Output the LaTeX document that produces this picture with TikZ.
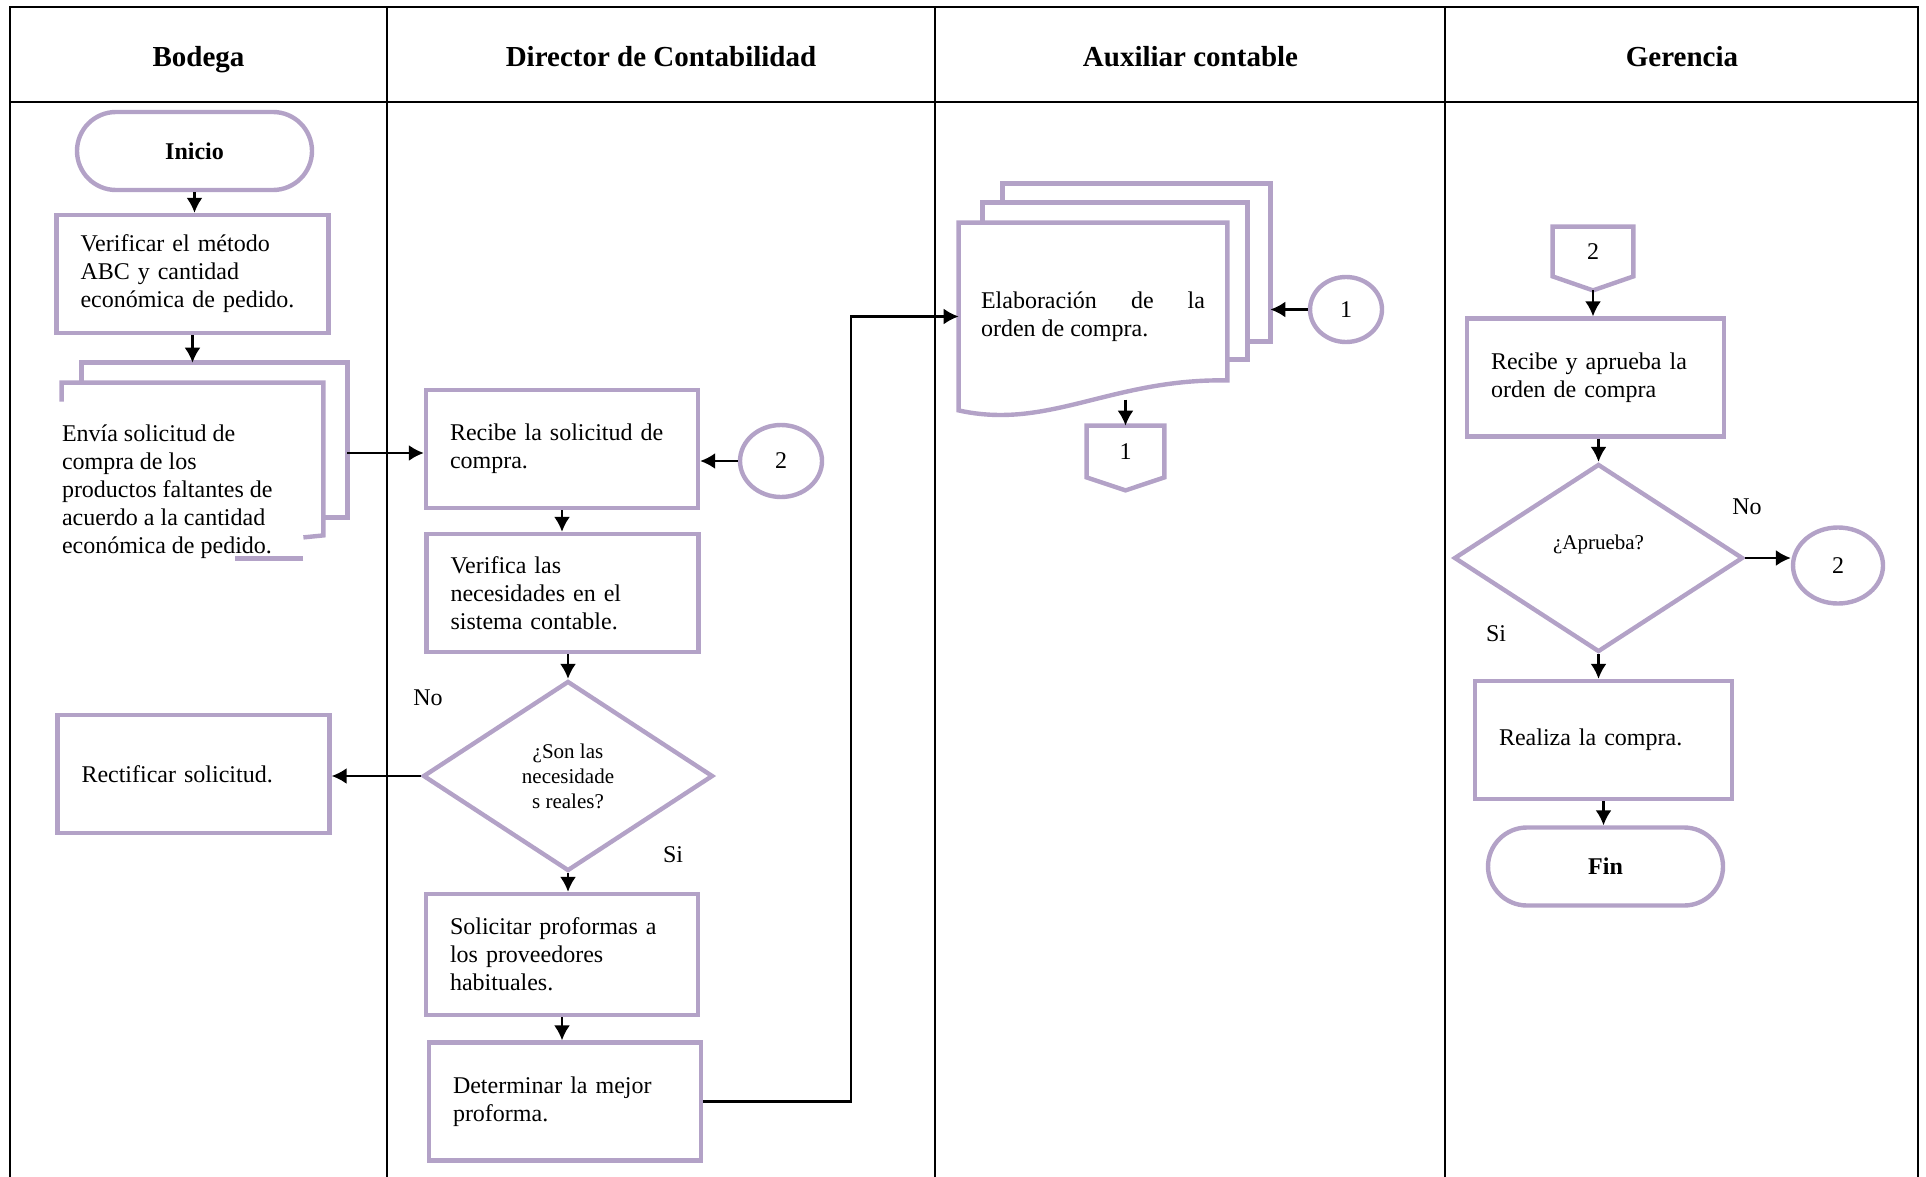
\documentclass[tikz,border=0pt]{standalone}
\usepackage{fontspec}
\setmainfont{Liberation Serif}
\usetikzlibrary{shapes.geometric}
\usetikzlibrary{shapes.misc}
\usetikzlibrary{arrows.meta}
\definecolor{lila}{RGB}{179,162,199}

\begin{document}
\begin{tikzpicture}[
    x=0.5pt, y=-0.5pt,
    >={Latex[length=7.5pt,width=8pt]},
    every node/.style={font=\fontsize{12}{14}\selectfont, inner sep=0pt},
    proceso/.style={draw=lila, line width=2.2pt, minimum width=136pt, minimum height=59pt, text width=112pt, align=left},
    terminal/.style={rounded rectangle, draw=lila, line width=2.2pt, minimum width=117.5pt, minimum height=39pt, font=\fontsize{12}{14}\selectfont\bfseries},
    decision/.style={diamond, draw=lila, line width=2.2pt, align=center, font=\fontsize{10.5}{12.5}\selectfont},
    conector/.style={ellipse, draw=lila, line width=2.2pt},
    hoja/.style={draw=lila, line width=2.2pt},
    cabecera/.style={font=\fontsize{14.5}{17}\selectfont\bfseries, anchor=base},
    tabla/.style={line width=1.3pt},
    flecha/.style={->, line width=1.1pt}
  ]
    % Tabla de carriles
    \useasboundingbox (0,0) rectangle (1926,1177);
    \draw[tabla] (10,1177) -- (10,7) -- (1918,7) -- (1918,1177);
    \draw[tabla] (10,102) -- (1918,102);
    \draw[tabla] (387,7) -- (387,1177);
    \draw[tabla] (935,7) -- (935,1177);
    \draw[tabla] (1445,7) -- (1445,1177);

    \node[cabecera] (bodega) at (198.5,67) {Bodega};
    \node[cabecera] (director) at (661,67) {Director de Contabilidad};
    \node[cabecera] (auxiliar) at (1190.5,67) {Auxiliar contable};
    \node[cabecera] (gerencia) at (1682,67) {Gerencia};

    % Bodega
    \node[terminal] (inicio) at (194.5,151) {Inicio};
    \node[proceso] (verificar) at (192.5,274) {Verificar el método\\ABC y cantidad\\económica de pedido.};
    \node[minimum width=132.5pt, minimum height=77pt] (envia) at (214.5,440) {};
    \draw[hoja] ([yshift=-10pt]envia.north west) -- (envia.north west) -- (envia.north east) -- (envia.south east) -- ++(-12pt,0);
    \draw[hoja] ([shift={(-10pt,-19.5pt)}]envia.north west) -- ++(0,9.5pt) -| ([shift={(-12pt,-9pt)}]envia.south east) -- ++(-10pt,-1pt);
    \draw[hoja] ([shift={(-22pt,-20.5pt)}]envia.south east) -- ++(-34pt,0);
    \node[anchor=north west, align=left] (enviatxt) at ([shift={(-10pt,-31pt)}]envia.north west) {Envía solicitud de\\compra de los\\productos faltantes de\\acuerdo a la cantidad\\económica de pedido.};
    \node[proceso] (rectificar) at (193.5,774) {Rectificar solicitud.};

    % Director de Contabilidad
    \node[proceso] (recibe) at (562,449) {Recibe la solicitud de\\compra.};
    \node[conector, minimum width=41pt, minimum height=36pt] (con2) at (781,461) {2};
    \node[proceso] (verifica) at (562.5,593) {Verifica las\\necesidades en el\\sistema contable.};
    \node[decision, minimum width=145pt, minimum height=95pt] (necesidades) at (568,776) {¿Son las\\necesidade\\s reales?};
    \node (no1) at (428,698) {No};
    \node (si1) at (673,855) {Si};
    \node[proceso, minimum height=60.5pt] (proformas) at (562,954.5) {Solicitar proformas a\\los proveedores\\habituales.};
    \node[proceso] (mejor) at (565,1101.5) {Determinar la mejor\\proforma.};

    % Auxiliar contable
    \node[minimum width=134pt, minimum height=93.5pt, text width=112pt, align=justify] (elab) at (1093,316.5) {Elaboración de la\linebreak orden de compra.};
    \draw[hoja] ([shift={(22pt,10pt)}]elab.north west) |- ([shift={(21.5pt,19.5pt)}]elab.north east) -- ++(0,-79pt) -- ++(-11.5pt,0);
    \draw[hoja] ([shift={(12pt,0pt)}]elab.north west) |- ([shift={(10pt,10pt)}]elab.north east) -- ++(0,-78.5pt) -- ++(-10pt,0);
    \draw[hoja] (elab.north west) -- (elab.north east) -- ([yshift=15pt]elab.south east) .. controls +(-58pt,1pt) and +(45pt,-10pt) .. (elab.south west) -- cycle;
    \coordinate (hojaatras) at ([xshift=21.5pt]elab.east);
    \node[conector, minimum width=36pt, minimum height=32.5pt] (con1) at (1346,309.5) {1};
    \node[minimum width=38.5pt, minimum height=25.5pt] (ref1) at (1125.5,451.5) {1};
    \draw[hoja] (ref1.south west) -- (ref1.north west) -- (ref1.north east) -- (ref1.south east) -- ([yshift=-6.5pt]ref1.south) -- cycle;

    % Gerencia
    \node[minimum width=40pt, minimum height=24.5pt] (ref2) at (1593,251.5) {2};
    \draw[hoja] (ref2.south west) -- (ref2.north west) -- (ref2.north east) -- (ref2.south east) -- ([yshift=-7pt]ref2.south) -- cycle;
    \node[proceso, minimum width=128.5pt, text width=104.5pt] (aprueba) at (1595.5,377.5) {Recibe y aprueba la\\orden de compra};
    \node[decision, minimum width=144.5pt, minimum height=94pt] (apruebaq) at (1598.5,558) {\raisebox{16pt}{¿Aprueba?}};
    \node[conector, minimum width=45pt, minimum height=38pt] (con2g) at (1838,565.5) {2};
    \node (no2) at (1747,507) {No};
    \node (si2) at (1496,634) {Si};
    \node[proceso, minimum width=128.5pt, text width=104.5pt] (compra) at (1603.5,740) {Realiza la compra.};
    \node[terminal] (fin) at (1605.5,866.5) {Fin};

    \draw[flecha] (inicio.south) -- (inicio.south |- verificar.north);
    \draw[flecha] (verificar.south) -- (verificar.south |- envia.north);
    \draw[flecha] ([yshift=-2pt]envia.east |- recibe.west) -- ([yshift=-2pt]recibe.west);
    \draw[flecha] (con2.west) -- (con2.west -| recibe.east);
    \draw[flecha] (recibe.south) -- (recibe.south |- verifica.north);
    \draw[flecha] (verifica.south -| necesidades.north) -- (necesidades.north);
    \draw[flecha] (necesidades.west) -- (necesidades.west -| rectificar.east);
    \draw[flecha] (necesidades.south) -- (necesidades.south |- proformas.north);
    \draw[flecha] (proformas.south) -- (proformas.south |- mejor.north);
    \draw[flecha] (mejor.east) -| ([xshift=-54pt]elab.west) -- (elab.west);
    \draw[flecha] (con1.west) -- (con1.west -| hojaatras);
    \draw[flecha] ([yshift=13pt]ref1.north) -- (ref1.north);
    \draw[flecha] ([yshift=-7pt]ref2.south) -- (ref2.south |- aprueba.north);
    \draw[flecha] (aprueba.south -| apruebaq.north) -- (apruebaq.north);
    \draw[flecha] (apruebaq.east) -- (apruebaq.east -| con2g.west);
    \draw[flecha] (apruebaq.south) -- (apruebaq.south |- compra.north);
    \draw[flecha] (compra.south) -- (compra.south |- fin.north);

  \end{tikzpicture}
\end{document}
